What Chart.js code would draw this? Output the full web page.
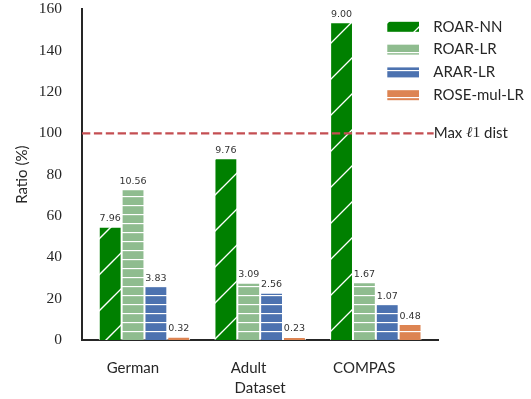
<!DOCTYPE html>
<html>
<head>
<meta charset="utf-8">
<script src="https://cdn.jsdelivr.net/npm/chart.js@4/dist/chart.umd.min.js"></script>
<style>
  html, body { margin: 0; padding: 0; background: #fff; }
  #wrap { width: 531px; height: 399px; }
</style>
</head>
<body>
<div id="wrap"><canvas id="c" width="531" height="399"></canvas></div>
<script>
// Datasets on the x axis and the methods compared in each group
const datasetNames = ['German', 'Adult', 'COMPAS'];
const methodNames = ['ROAR-NN', 'ROAR-LR', 'ARAR-LR', 'ROSE-mul-LR'];

// Ratio (%) per dataset for each method
const roarNN = [54.8, 87.9, 153.7];
const roarLR = [72.9, 27.7, 27.9];
const ararLR = [26.1, 22.9, 17.4];
const roseMulLR = [1.6, 1.5, 7.7];

// Annotations printed above each bar
const roarNNNotes = ['7.96', '9.76', '9.00'];
const roarLRNotes = ['10.56', '3.09', '1.67'];
const ararLRNotes = ['3.83', '2.56', '1.07'];
const roseMulLRNotes = ['0.32', '0.23', '0.48'];

// Reference line and y range
const maxL1Dist = 100;
const yMin = 0, yMax = 160, yStep = 20;

const INK = '#262626';
const SANS = 'Lato, "DejaVu Sans", sans-serif';

function stripes(bg) {
  const c = document.createElement('canvas');
  c.width = 9; c.height = 9;
  const g = c.getContext('2d');
  g.fillStyle = bg; g.fillRect(0, 0, 9, 9);
  g.fillStyle = '#ffffff'; g.fillRect(0, 7, 9, 1);
  g.fillStyle = 'rgba(255,255,255,0.35)'; g.fillRect(0, 8, 9, 0.5);
  return g.createPattern(c, 'repeat');
}

function slashes(bg) {
  const P = 36, c = document.createElement('canvas');
  c.width = P; c.height = P;
  const g = c.getContext('2d');
  g.fillStyle = bg; g.fillRect(0, 0, P, P);
  g.strokeStyle = '#ffffff'; g.lineWidth = 1.3;
  for (const k of [14 - P, 14, 14 + P]) {
    g.beginPath(); g.moveTo(k + 6, -6); g.lineTo(-6, k + 6); g.stroke();
  }
  return g.createPattern(c, 'repeat');
}

const series = [
  { label: methodNames[0], values: roarNN, notes: roarNNNotes, fill: slashes('#008000') },
  { label: methodNames[1], values: roarLR, notes: roarLRNotes, fill: stripes('#8fbc8f') },
  { label: methodNames[2], values: ararLR, notes: ararLRNotes, fill: stripes('#4c72b0') },
  { label: methodNames[3], values: roseMulLR, notes: roseMulLRNotes, fill: stripes('#dd8452') }
];

// Text above each bar
const barNotes = {
  id: 'barNotes',
  afterDatasetsDraw(chart) {
    const ctx = chart.ctx;
    ctx.save();
    ctx.font = '9.5px "DejaVu Sans", sans-serif';
    ctx.fillStyle = '#333333';
    ctx.textAlign = 'center';
    ctx.textBaseline = 'alphabetic';
    chart.data.datasets.forEach((ds, di) => {
      if (!ds.notes) return;
      chart.getDatasetMeta(di).data.forEach((bar, i) => {
        ctx.fillText(ds.notes[i], bar.x, bar.y - 5.5);
      });
    });
    ctx.restore();
  }
};

// Label at the end of the dashed reference line
const refLabel = {
  id: 'refLabel',
  afterDatasetsDraw(chart) {
    const ds = chart.data.datasets.find(d => d.isRef);
    const last = ds.data[ds.data.length - 1];
    const x0 = chart.scales.x.getPixelForValue(last.x);
    const y = chart.scales.y.getPixelForValue(last.y);
    const ctx = chart.ctx;
    ctx.save();
    ctx.fillStyle = INK;
    ctx.textBaseline = 'middle';
    ctx.textAlign = 'left';
    const parts = [
      ['Max ', '15px ' + SANS],
      ['\u2113', 'italic 15px "DejaVu Serif", serif'],
      ['1', '15.5px "Liberation Serif", serif'],
      [' dist', '15px ' + SANS]
    ];
    let x = x0;
    for (const [t, f] of parts) {
      ctx.font = f;
      ctx.fillText(t, x, y);
      x += ctx.measureText(t).width;
    }
    ctx.restore();
  }
};

// Legend block in the upper right
const sideLegend = {
  id: 'sideLegend',
  afterDraw(chart) {
    const ctx = chart.ctx;
    const items = chart.data.datasets.filter(d => !d.isRef);
    ctx.save();
    items.forEach((ds, i) => {
      const cy = 26.8 + i * 22.8;
      ctx.fillStyle = ds.backgroundColor;
      ctx.fillRect(387.3, cy - 5, 31.7, 10);
      ctx.fillStyle = INK;
      ctx.font = '15px ' + SANS;
      ctx.textBaseline = 'middle';
      ctx.textAlign = 'left';
      ctx.fillText(ds.label, 433.3, cy);
    });
    ctx.restore();
  }
};

function build() {
  const barSets = series.map(s => ({
    type: 'bar',
    label: s.label,
    notes: s.notes,
    data: s.values.map((v, i) => ({ x: i, y: v })),
    backgroundColor: s.fill,
    borderColor: '#ffffff',
    borderWidth: 1,
    categoryPercentage: 0.79,
    barPercentage: 1.0,
    order: 1
  }));

  const refLine = {
    type: 'line',
    isRef: true,
    label: 'Max l1 dist',
    data: [{ x: -0.54, y: maxL1Dist }, { x: 2.5, y: maxL1Dist }],
    borderColor: '#c44e52',
    borderWidth: 2.2,
    borderDash: [8.3, 3.6],
    pointRadius: 0,
    fill: false,
    order: 0
  };

  new Chart(document.getElementById('c'), {
    data: { datasets: [...barSets, refLine] },
    options: {
      responsive: false,
      animation: false,
      events: [],
      layout: { padding: { top: 9.3, right: 92.7, left: 0, bottom: 0 } },
      plugins: { legend: { display: false }, tooltip: { enabled: false } },
      scales: {
        x: {
          type: 'linear',
          min: -0.54,
          max: 2.54,
          offset: false,
          afterBuildTicks(scale) {
            // group labels sit under the second bar of each group
            scale.ticks = datasetNames.map((_, i) => ({ value: i - 0.1 }));
          },
          afterFit(scale) { scale.height = 59; },
          grid: { display: false, drawTicks: false, offset: false },
          border: { display: true, color: INK, width: 2 },
          ticks: {
            padding: 19,
            color: INK,
            font: { family: SANS, size: 15 },
            maxRotation: 0,
            autoSkip: false,
            callback: (v, i) => datasetNames[i]
          },
          title: {
            display: true,
            text: 'Dataset',
            color: INK,
            font: { family: SANS, size: 15 },
            padding: { top: 0, bottom: 1.5 }
          }
        },
        y: {
          min: yMin,
          max: yMax,
          afterFit(scale) {
            scale.width = 82;
            // only the label overhang, not the label gap, reserves room above
            scale.paddingTop = 9;
            scale.paddingBottom = 9;
          },
          grid: { display: false, drawTicks: false },
          border: { display: true, color: INK, width: 2 },
          ticks: {
            stepSize: yStep,
            padding: 20,
            color: INK,
            font: { family: '"Liberation Serif", serif', size: 15.5 }
          },
          title: {
            display: true,
            text: 'Ratio (%)',
            color: INK,
            font: { family: SANS, size: 15 },
            padding: { top: 13, bottom: 0 }
          }
        }
      }
    },
    plugins: [barNotes, refLabel, sideLegend]
  });
}

Promise.all([
  document.fonts.load('15px Lato'),
  document.fonts.load('10px "DejaVu Sans"'),
  document.fonts.load('15px "Liberation Serif"'),
  document.fonts.load('italic 15px "DejaVu Serif"')
]).then(build, build);
</script>
</body>
</html>
